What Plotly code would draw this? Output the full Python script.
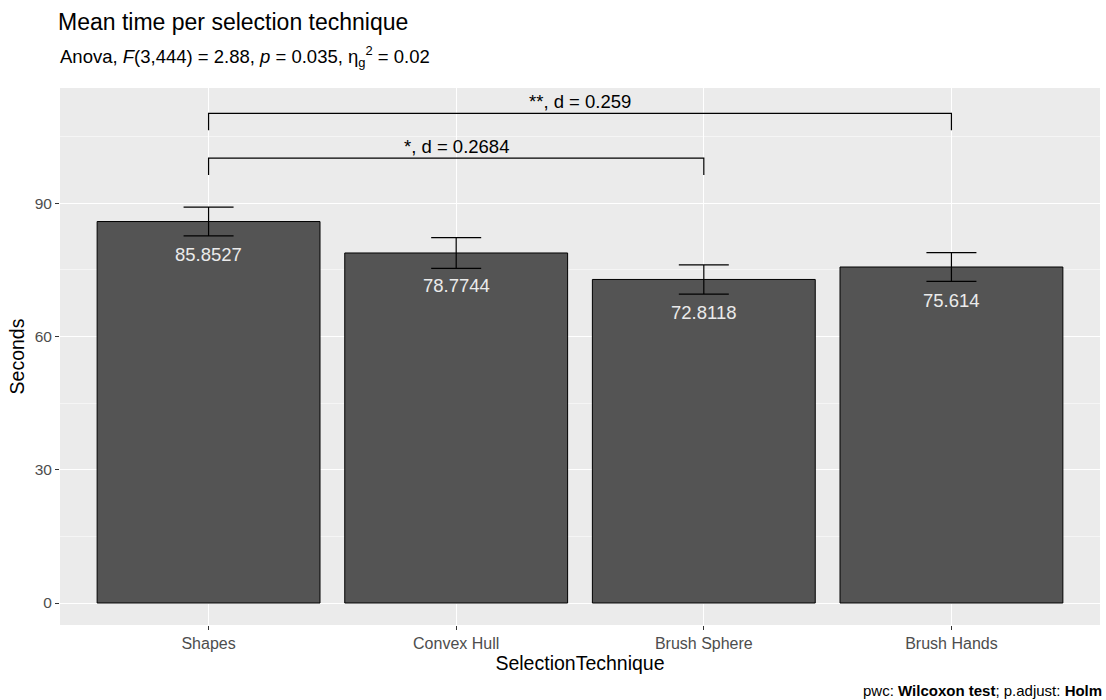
import plotly.graph_objects as go

techniques = ["Shapes", "Convex Hull", "Brush Sphere", "Brush Hands"]
mean_seconds = [85.8527, 78.7744, 72.8118, 75.614]
std_error = [3.22, 3.45, 3.3, 3.24]
bar_labels = ["85.8527", "78.7744", "72.8118", "75.614"]

# pairwise comparisons: (group1, group2, bracket y, tip y, label)
comparisons = [
    ("Shapes", "Brush Sphere", 100.1, 96.3, "*, d = 0.2684"),
    ("Shapes", "Brush Hands", 110.2, 106.4, "**, d = 0.259"),
]

FONT = "Liberation Sans, Arial, sans-serif"
xpos = list(range(len(techniques)))

fig = go.Figure()
fig.add_trace(go.Bar(
    x=xpos, y=mean_seconds, width=0.9,
    marker=dict(color="#545454", line=dict(color="black", width=1)),
    error_y=dict(type="data", array=std_error, visible=True, color="black",
                 thickness=1.2, width=25),
    hoverinfo="skip", showlegend=False,
))

for xi, m, lab in zip(xpos, mean_seconds, bar_labels):
    fig.add_annotation(x=xi, y=m, text=lab, showarrow=False, yshift=-33,
                       font=dict(size=18.5, color="#EBEBEB", family=FONT))

for g1, g2, yb, yt, lab in comparisons:
    x1 = techniques.index(g1)
    x2 = techniques.index(g2)
    fig.add_trace(go.Scatter(
        x=[x1, x1, x2, x2], y=[yt, yb, yb, yt], mode="lines",
        line=dict(color="black", width=1.2), hoverinfo="skip", showlegend=False,
    ))
    fig.add_annotation(x=(x1 + x2) / 2, y=yb, text=lab, showarrow=False,
                       yanchor="bottom", yshift=-1,
                       font=dict(size=18.5, color="black", family=FONT))

fig.update_layout(
    width=1106, height=700,
    margin=dict(l=60, r=6, t=88, b=75),
    paper_bgcolor="white", plot_bgcolor="#EBEBEB",
    font=dict(family=FONT, color="black"),
    title=dict(text="Mean time per selection technique", x=58/1106, xanchor="left",
               y=1 - 22/700, yanchor="middle", font=dict(size=23, family=FONT)),
    xaxis=dict(
        range=[-0.6, 3.6], tickmode="array", tickvals=xpos, ticktext=techniques,
        showgrid=True, gridcolor="white", gridwidth=1.2, zeroline=False,
        ticks="outside", ticklen=4, tickcolor="#333333",
        tickfont=dict(size=16, color="#4D4D4D"),
        title=dict(text="SelectionTechnique", font=dict(size=19.5), standoff=2),
    ),
    yaxis=dict(
        range=[-4.95, 115.9], tickvals=[0, 30, 60, 90],
        showgrid=True, gridcolor="white", gridwidth=1.2, zeroline=False,
        minor=dict(tickvals=[15, 45, 75, 105], showgrid=True, gridcolor="#F5F5F5", gridwidth=0.6),
        ticks="outside", ticklen=4, tickcolor="#333333",
        tickfont=dict(size=15.5, color="#4D4D4D"),
        title=dict(text="Seconds", font=dict(size=19.5), standoff=4),
    ),
)

fig.add_annotation(xref="paper", yref="paper", x=0, y=1, xshift=-2, yshift=16,
                   xanchor="left", yanchor="bottom", showarrow=False,
                   text="Anova, <i>F</i>(3,444) = 2.88, <i>p</i> = 0.035, η<sub>g</sub><sup>2</sup> = 0.02",
                   font=dict(size=18.5, family=FONT, color="black"))

fig.add_annotation(xref="paper", yref="paper", x=1, y=0, xshift=4, yshift=-76,
                   xanchor="right", yanchor="bottom", showarrow=False,
                   text="pwc: <b>Wilcoxon test</b>; p.adjust: <b>Holm</b>",
                   font=dict(size=15, family=FONT, color="black"))

fig.write_html("out.html")
